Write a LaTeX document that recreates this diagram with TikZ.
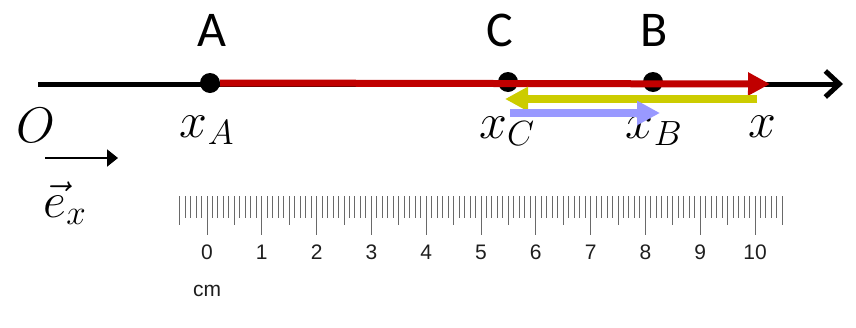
\documentclass[tikz,border=0pt]{standalone}
\usepackage{fix-cm}
\usepackage{fontspec}
\setsansfont{Carlito}
\newfontfamily\rulerfont{Liberation Sans}
\usetikzlibrary{arrows.meta}
\definecolor{redline}{RGB}{192,0,0}
\definecolor{yelline}{RGB}{204,204,0}
\definecolor{blueline}{RGB}{153,153,255}
\definecolor{tickgray}{RGB}{105,105,105}
\definecolor{numgray}{RGB}{30,30,30}
\begin{document}
\begin{tikzpicture}[x=1pt,y=-1pt,
  dot/.style={circle,fill=black,inner sep=0pt,minimum size=20pt},
  ptlabel/.style={font=\fontsize{50}{60}\selectfont\sffamily,anchor=base,inner sep=0pt},
  mathlabel/.style={font=\fontsize{50}{60}\selectfont,anchor=base,inner sep=0pt},
  rulernum/.style={font=\rulerfont\fontsize{21}{25}\selectfont,text=numgray,anchor=base,inner sep=0pt},
  tick/.style={draw=tickgray,line width=1pt},
  vecarrow/.style={line width=8pt,-{Triangle[length=23pt,width=23pt]}}]
\useasboundingbox (0,0) rectangle (856,327);

% axis
\coordinate (axstart) at (38,84);
\coordinate (axend) at (843,84);
\draw[line width=5pt,-{Straight Barb[length=14pt,width=26pt]}] (axstart) -- (axend);

% points
\node[dot] (A) at (210,83) {};
\node[dot] (C) at (508,82) {};
\node[dot] (B) at (653,82) {};

% point names
\node[ptlabel] (lA) at (212,46) {A};
\node[ptlabel] (lC) at (500,46) {C};
\node[ptlabel] (lB) at (654,46) {B};

% math labels
\node[mathlabel] (lO) at (36,142) {$O$};
\node[mathlabel] (lxA) at (207,137) {$x_A$};
\node[mathlabel] (lxC) at (507,138) {$x_C$};
\node[mathlabel] (lxB) at (654,138) {$x_B$};
\node[mathlabel] (lx) at (762,137) {$x$};

% red displacement
\coordinate (redend) at (770,84);
\draw[redline,line width=7pt,-{Triangle[length=22pt,width=22pt]}] (A.east) -- (redend);
% yellow
\coordinate (ystart) at (757,99);
\coordinate (yend) at (505,99);
\draw[yelline,vecarrow] (ystart) -- (yend);
% blue
\coordinate (bstart) at (510,113);
\coordinate (bend) at (660,113);
\draw[blueline,vecarrow] (bstart) -- (bend);

% unit vector
\coordinate (es) at (45,158);
\coordinate (ee) at (118,158);
\draw[line width=2pt,-{Triangle[length=11pt,width=17pt]}] (es) -- (ee);
\node[mathlabel] (lex) at (65,217) {$\vec{e}_x$};

% ruler
\foreach \i in {-5,...,105} {
  \draw[tick] (207+5.48*\i,196) -- ++(0,22);
}
\foreach \i in {-1,...,21} {
  \draw[tick] (207+27.4*\i,196) -- ++(0,29);
}
\foreach \i in {0,...,10} {
  \draw[tick] (207+54.8*\i,196) -- ++(0,39);
}
\foreach \n in {0,...,10} {
  \node[rulernum] (r\n) at (207+54.8*\n,259) {\n};
}
\node[font=\rulerfont\fontsize{21}{25}\selectfont,text=numgray,anchor=base,inner sep=0pt] (cm) at (207,296) {cm};
\end{tikzpicture}
\end{document}
